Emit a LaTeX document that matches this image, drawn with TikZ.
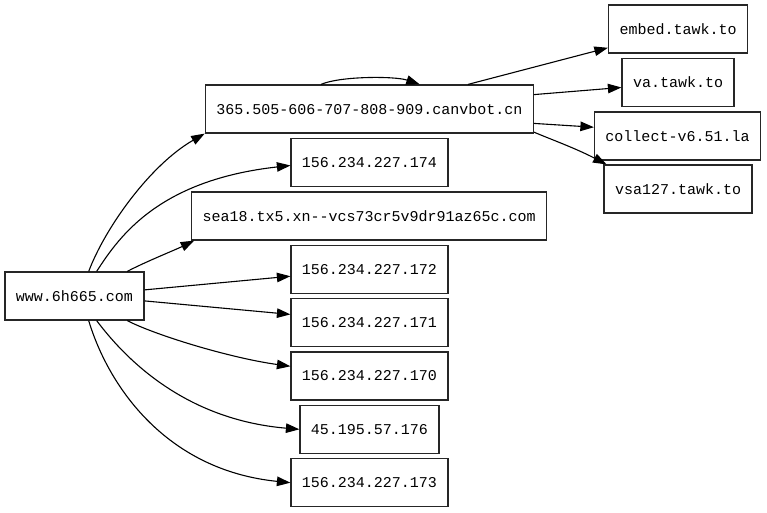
\documentclass[tikz,border=0pt]{standalone}
\usepackage{fontspec}
\setmonofont{Liberation Mono}
\usetikzlibrary{arrows.meta}
\begin{document}
\begin{tikzpicture}[x=1pt,y=-1pt,
  box/.style={draw=black!85,line width=1.2pt,rectangle,minimum height=48pt,inner xsep=11pt,inner ysep=0pt,
    font=\ttfamily\fontsize{15pt}{18pt}\selectfont},
  edge/.style={draw=black,line width=1.1pt,-{Triangle[length=13.5pt,width=9.5pt]}}]
\fill[white] (0,0) rectangle (767,512);
\useasboundingbox (0,0) rectangle (767,512);
% nodes
\node[box] (www) at (74.5,296) {www.6h665.com};
\node[box] (canv) at (369.3,109) {365.505-606-707-808-909.canvbot.cn};
\node[box] (n174) at (369.5,162.7) {156.234.227.174};
\node[box] (sea) at (369.2,216) {sea18.tx5.xn--vcs73cr5v9dr91az65c.com};
\node[box] (n172) at (369.5,269.3) {156.234.227.172};
\node[box] (n171) at (369.5,322.7) {156.234.227.171};
\node[box] (n170) at (369.5,376) {156.234.227.170};
\node[box] (n45) at (369.5,429.3) {45.195.57.176};
\node[box] (n173) at (369.5,482.7) {156.234.227.173};
\node[box] (embed) at (678,29) {embed.tawk.to};
\node[box] (va) at (678,82.5) {va.tawk.to};
\node[box] (collect) at (677.5,136) {collect-v6.51.la};
\node[box] (vsa) at (678,189) {vsa127.tawk.to};
% edges from www
\draw[edge] (www.60.6) .. controls (105,228) and (150,165) .. (canv.south west);
\draw[edge] (www.48.1) .. controls (120,235) and (160,180) .. (n174.182.4);
\draw[edge] (www.25.9) .. controls (145,262) and (175,250) .. (sea.188.6);
\draw[edge] (www.5.75) -- (n172.185.6);
\draw[edge] (www.-4.9) -- (n171.174.4);
\draw[edge] (www.-25.9) .. controls (155,335) and (230,358) .. (n170.173.5);
\draw[edge] (www.-48.1) .. controls (130,365) and (190,420) .. (n45.west);
\draw[edge] (www.-60.6) .. controls (108,385) and (165,470) .. (n173.west);
% edges from canvbot
\draw[edge] (canv.153.1) .. controls (340,76) and (395,76) .. (canv.26.2);
\draw[edge] (canv.14.4) -- (embed.195);
\draw[edge] (canv.5.1) -- (va.185.9);
\draw[edge] (canv.-5) -- (collect.174.5);
\draw[edge] (canv.-8.6) .. controls (550,139) and (575,148) .. (vsa.161.8);
\end{tikzpicture}
\end{document}
